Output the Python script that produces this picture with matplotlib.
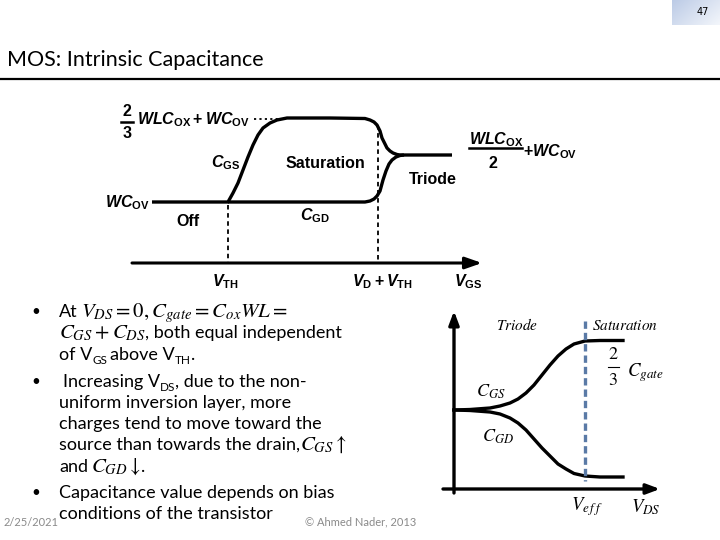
import numpy as np
import matplotlib
matplotlib.use('Agg')
import matplotlib.pyplot as plt
from matplotlib.colors import LinearSegmentedColormap
from matplotlib.patches import Rectangle

plt.rcParams['mathtext.fontset'] = 'stix'
plt.rcParams['mathtext.it'] = 'Liberation Sans:italic:bold'
plt.rcParams['mathtext.rm'] = 'Liberation Sans:bold'
plt.rcParams['mathtext.bf'] = 'Liberation Sans:bold'

# --- top diagram: C vs V_GS (pixel units)
cgs_vgs = [152, 228, 233, 238, 243, 248, 253, 258, 263, 270, 277, 287, 330, 365, 370, 374, 377, 380,
           382, 385, 387, 390, 393, 397, 400, 452]
cgs_cap = [202, 202, 193, 183, 170, 157, 145, 135, 128, 123, 120, 118, 118, 118.5, 120, 122, 125, 131,
           138, 144, 148, 151, 153, 154.5, 155, 155]
cgd_vgs = [228, 300, 365, 370, 374, 377, 380, 383, 386, 389, 392, 396, 400, 404]
cgd_cap = [202, 202, 202, 201, 199, 196, 191, 180, 171, 164, 160, 157, 155.5, 155]

# --- bottom-right diagram: C vs V_DS
br_vds = [454, 470, 490, 500, 510, 518, 526, 534, 542, 550, 558, 566, 574, 585, 600, 623]
br_cgs = [410, 409.5, 408, 406, 403, 399, 393, 385, 375, 365, 356, 349, 344, 341, 340.5, 340.5]
br_cgd = [410, 410.5, 412, 414, 418, 423, 430, 439, 448, 456, 464, 469, 473.5, 476, 477, 477]

# bullet lines: (y, bullet?, pieces)  piece = (text, kind, gap after)
bullet_lines = [
    (312, True, [('At', 't', 3), (r'$V_{DS}=0,C_{gate}=C_{ox}WL=$', 'm', 0)]),
    (333, False, [(r'$C_{GS}+C_{DS}$', 'm', -1), (', both equal independent', 't', 0)]),
    (355, False, [('of V', 't', 0), ('GS', 's', 3), ('above V', 't', 0), ('TH', 's', 0), ('.', 't', 0)]),
    (382, True, [('Increasing V', 't', 0), ('DS', 's', 0), (', due to the non-', 't', 0)]),
    (403, False, [('uniform inversion layer, more', 't', 0)]),
    (424, False, [('charges tend to move toward the', 't', 0)]),
    (445, False, [('source than towards the drain,', 't', 0), (r'$C_{GS}\uparrow$', 'm', 0)]),
    (467, False, [('and', 't', 3), (r'$C_{GD}\downarrow$', 'm', 0), ('.', 't', 0)]),
    (493, True, [('Capacitance value depends on bias', 't', 0)]),
    (514, False, [('conditions of the transistor', 't', 0)]),
]
line_x = {312: 59, 333: 59, 355: 59, 382: 63, 403: 59, 424: 59, 445: 59, 467: 59, 493: 59, 514: 59}

fig = plt.figure(figsize=(7.2, 5.4), dpi=100)
ax = fig.add_axes([0, 0, 1, 1])
renderer = fig.canvas.get_renderer()

# page number box
grad = np.linspace(0, 1, 50).reshape(1, -1) + np.linspace(0, 0.6, 25).reshape(-1, 1)
cmap = LinearSegmentedColormap.from_list('pg', ['#bccbe6', '#f3f6fb'])
ax.imshow(grad, extent=(672, 720, 25, 0), aspect='auto', cmap=cmap, zorder=0)
ax.set_xlim(0, 720)
ax.set_ylim(540, 0)
ax.axis('off')
ax.text(703, 12, '47', fontsize=7, ha='center', va='center', family='Liberation Sans Narrow')

# title and rule
ax.text(7, 60, 'MOS: Intrinsic Capacitance', fontsize=15.5, family='Lato', va='center')
ax.plot([0, 720], [79, 79], color='black', lw=1.6)

# ---- top diagram
lw_c = 2.4
ax.plot(cgs_vgs, cgs_cap, color='black', lw=lw_c, solid_capstyle='butt')
ax.plot(cgd_vgs, cgd_cap, color='black', lw=lw_c, solid_capstyle='butt')
ax.annotate('', xy=(482, 263), xytext=(132, 263),
            arrowprops=dict(arrowstyle='-|>,head_length=1.0,head_width=0.35', lw=2.2,
                            color='black', shrinkA=0, shrinkB=0))
ax.plot([228, 228], [205, 262], color='black', lw=1.3, ls=(0, (2.5, 2)))
ax.plot([378, 378], [125, 262], color='black', lw=1.3, ls=(0, (2.5, 2)))
ax.plot([254, 284], [119, 119], color='black', lw=1.3, ls=(0, (1.2, 1.8)))

tkw = dict(math_fontfamily='custom', fontsize=11.5, va='center', ha='left')
bkw = dict(family='Liberation Sans', weight='bold', fontsize=11.5, va='center')
ax.text(127, 111, r'$\mathrm{2}$', math_fontfamily='custom', fontsize=11.5, ha='center', va='center')
ax.text(127, 133, r'$\mathrm{3}$', math_fontfamily='custom', fontsize=11.5, ha='center', va='center')
ax.plot([121, 133], [122, 122], color='black', lw=1.8)
ax.text(137, 120, r'$WLC_{\mathrm{OX}}+WC_{\mathrm{OV}}$', **tkw)
ax.text(105, 203, r'$WC_{\mathrm{OV}}$', **tkw)
ax.text(211, 163, r'$C_{\mathrm{GS}}$', **tkw)
ax.text(300, 216, r'$C_{\mathrm{GD}}$', **tkw)
ax.text(286, 163, 'Saturation', **bkw)
ax.text(409, 180, 'Triode', **bkw)
ax.text(176, 221, 'Off', **bkw)
ax.text(212, 282, r'$V_{\mathrm{TH}}$', **tkw)
ax.text(352, 282, r'$V_{\mathrm{D}}+V_{\mathrm{TH}}$', **tkw)
ax.text(454, 282, r'$V_{\mathrm{GS}}$', **tkw)
ax.text(469, 140, r'$WLC_{\mathrm{OX}}$', **tkw)
ax.plot([469, 522], [148, 148], color='black', lw=1.8)
ax.text(493, 163, r'$\mathrm{2}$', math_fontfamily='custom', fontsize=11.5, ha='center', va='center')
ax.text(523, 152, r'$+WC_{\mathrm{OV}}$', **tkw)

# ---- bottom-right diagram
ax.plot(br_vds, br_cgs, color='black', lw=2.4)
ax.plot(br_vds, br_cgd, color='black', lw=2.4)
ax.annotate('', xy=(454, 311), xytext=(454, 493),
            arrowprops=dict(arrowstyle='-|>,head_length=0.8,head_width=0.3', lw=2.4,
                            color='black', shrinkA=0, shrinkB=0))
ax.annotate('', xy=(660, 489), xytext=(443, 489),
            arrowprops=dict(arrowstyle='-|>,head_length=0.8,head_width=0.3', lw=2.4,
                            color='black', shrinkA=0, shrinkB=0))
ax.plot([585, 585], [321, 481], color='#5a7aa6', lw=2.4, ls=(0, (2.2, 1.2)))

skw = dict(va='center', ha='left')
ax.text(496, 325, r'$\mathit{Triode}$', fontsize=11, **skw)
ax.text(592, 325, r'$\mathit{Saturation}$', fontsize=11, **skw)
ax.text(476, 392, r'$C_{GS}$', fontsize=13, **skw)
ax.text(482, 437, r'$C_{GD}$', fontsize=13, **skw)
ax.text(613, 355, '2', family='STIXGeneral', fontsize=13, ha='center', va='center')
ax.plot([608, 619], [367, 367], color='black', lw=0.8)
three = ax.text(613, 381, '3', family='STIXGeneral', fontsize=13, ha='center', va='center')
clip = Rectangle((600, 360), 30, 22, transform=ax.transData)
three.set_clip_path(clip)
ax.text(627, 373, r'$C_{gate}$', fontsize=13.5, **skw)
ax.text(571, 507, r'$V_{e\,f\,f}$', fontsize=13.5, **skw)
ax.text(631, 507, r'$V_{DS}$', fontsize=13.5, **skw)

# ---- bullet text, laid out piece by piece
for y, has_bullet, pieces in bullet_lines:
    if has_bullet:
        ax.text(36, y, '•', fontsize=11, family='Lato', va='center', ha='center')
    x = line_x[y]
    base = y + 5
    for s, kind, gap in pieces:
        if kind == 't':
            t = ax.text(x, base, s, fontsize=13, family='Lato', va='baseline')
        elif kind == 's':
            t = ax.text(x, base + 4, s, fontsize=8.5, family='Lato', va='baseline')
        else:
            t = ax.text(x, base, s, fontsize=15, va='baseline')
        bb = t.get_window_extent(renderer)
        x += bb.width + gap

# footer
ax.text(4, 522, '2/25/2021', fontsize=8, color='#8a8a8a', family='Lato', va='center')
ax.text(305, 522, '© Ahmed Nader, 2013', fontsize=8, color='#8a8a8a', family='Lato', va='center')

fig.savefig('out.png', dpi=100)
